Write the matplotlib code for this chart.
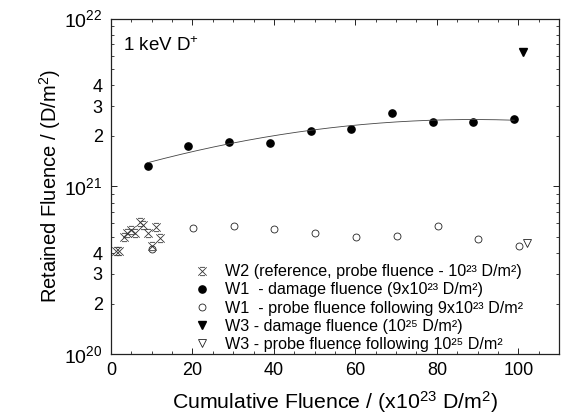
import numpy as np
import matplotlib
matplotlib.use("Agg")
import matplotlib.pyplot as plt
from matplotlib.path import Path
from matplotlib.ticker import MultipleLocator, LogLocator, FuncFormatter

plt.rcParams['font.family'] = ['Liberation Sans', 'DejaVu Sans']
plt.rcParams['mathtext.fontset'] = 'custom'
plt.rcParams['mathtext.rm'] = 'Liberation Sans'
plt.rcParams['mathtext.it'] = 'Liberation Sans'
plt.rcParams['mathtext.default'] = 'regular'

# ---- data ----
w2_x = [1.2, 2.0, 3.2, 4.0, 4.8, 5.8, 7.0, 7.9, 9.2, 10.0, 11.1, 12.0]
w2_y = [4.1e20, 4.1e20, 5.0e20, 5.25e20, 5.5e20, 5.3e20, 6.15e20, 5.87e20, 5.3e20, 4.43e20, 5.7e20, 4.9e20]

w1_dmg_x = [9, 19, 29, 39, 49, 59, 69, 79, 89, 99]
w1_dmg_y = [1.32e21, 1.74e21, 1.83e21, 1.81e21, 2.13e21, 2.20e21, 2.74e21, 2.43e21, 2.40e21, 2.50e21]

w1_probe_x = [10.0, 20.1, 30.1, 40.0, 50.1, 60.1, 70.2, 80.3, 90.1, 100.2]
w1_probe_y = [4.2e20, 5.63e20, 5.79e20, 5.58e20, 5.25e20, 4.97e20, 5.03e20, 5.79e20, 4.86e20, 4.39e20]

w3_dmg_x = [101.1]
w3_dmg_y = [6.3e21]

w3_probe_x = [102.1]
w3_probe_y = [4.6e20]

legend_labels = [
    "W2 (reference, probe fluence - 10²³ D/m²)",
    "W1  - damage fluence (9x10²³ D/m²)",
    "W1  - probe fluence following 9x10²³ D/m²",
    "W3 - damage fluence (10²⁵ D/m²)",
    "W3 - probe fluence following 10²⁵ D/m²",
]

# ---- figure ----
fig = plt.figure(figsize=(5.61, 4.16), dpi=100)
ax = fig.add_axes([111/561, 1-354/416, 448/561, (354-18.5)/416])

star = Path([(-1, -1), (1, 1), (-1, 1), (1, -1), (-0.6, 1), (0.6, 1), (-0.6, -1), (0.6, -1)],
            [Path.MOVETO, Path.LINETO, Path.MOVETO, Path.LINETO,
             Path.MOVETO, Path.LINETO, Path.MOVETO, Path.LINETO])

h1, = ax.plot(w2_x, w2_y, linestyle='none', marker=star, ms=6, mfc='none', mec='#333333', mew=0.6)
h2, = ax.plot(w1_dmg_x, w1_dmg_y, linestyle='none', marker='o', ms=5.2, color='black')
h3, = ax.plot(w1_probe_x, w1_probe_y, linestyle='none', marker='o', ms=5, mfc='none', mec='#222222', mew=0.6)
h4, = ax.plot(w3_dmg_x, w3_dmg_y, linestyle='none', marker='v', ms=6, color='black')
h5, = ax.plot(w3_probe_x, w3_probe_y, linestyle='none', marker='v', ms=6, mfc='none', mec='#222222', mew=0.6)

# fit line through damage data (quadratic in log)
coef = np.polyfit(w1_dmg_x, np.log10(w1_dmg_y), 2)
xf = np.linspace(min(w1_dmg_x), max(w1_dmg_x), 200)
ax.plot(xf, 10**np.polyval(coef, xf), color='#444444', lw=0.6)

ax.set_yscale('log')
ax.set_xlim(0, 110)
ax.set_ylim(1e20, 1e22)

ax.xaxis.set_major_locator(MultipleLocator(20))
ax.xaxis.set_minor_locator(MultipleLocator(5))
ax.yaxis.set_major_locator(LogLocator(base=10, numticks=10))
ax.yaxis.set_minor_locator(LogLocator(base=10, subs=np.arange(2, 10), numticks=20))

def major_fmt(v, pos):
    e = int(round(np.log10(v)))
    return "10$^{%d}$" % e

def minor_fmt(v, pos):
    m = v / 10**np.floor(np.log10(v) + 1e-9)
    m = int(round(m))
    return str(m) if m in (2, 3, 4) else ""

ax.yaxis.set_major_formatter(FuncFormatter(major_fmt))
ax.yaxis.set_minor_formatter(FuncFormatter(minor_fmt))

ax.tick_params(which='both', direction='in', top=True, right=True, colors='#222222')
ax.tick_params(which='major', length=4, width=0.7, labelsize=13, pad=6, labelcolor='black')
ax.tick_params(which='minor', length=2.5, width=0.6, labelsize=13, pad=6, labelcolor='black')
ax.tick_params(axis='y', which='major', labelsize=14)
for s in ax.spines.values():
    s.set_linewidth(0.9)
    s.set_color('#222222')

ax.set_xlabel("Cumulative Fluence / (x10$^{23}$ D/m$^{2}$)", fontsize=15.3, labelpad=7)
ax.set_ylabel("Retained Fluence / (D/m$^{2}$)", fontsize=14.5, labelpad=1)

ax.text(0.027, 0.92, "1 keV D$^{+}$", transform=ax.transAxes, fontsize=13.5, va='center', ha='left')

leg = ax.legend([h1, h2, h3, h4, h5], legend_labels, loc='lower left',
                bbox_to_anchor=(0.16, -0.028), frameon=False, fontsize=11.6,
                handlelength=1.0, handletextpad=0.9, labelspacing=0.2, borderaxespad=0.3)

fig.savefig("out.png", dpi=100)
